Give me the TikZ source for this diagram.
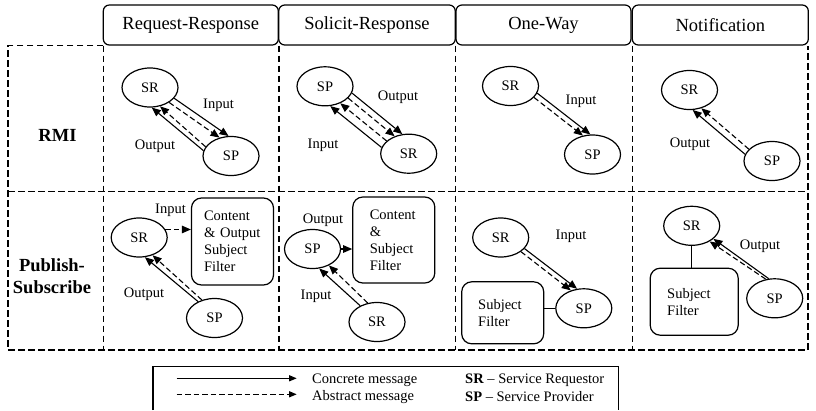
\documentclass[tikz,border=0pt]{standalone}
\usepackage{fontspec}
\setmainfont{Liberation Serif}
\usetikzlibrary{arrows.meta,positioning,shapes.geometric}

\begin{document}
\begin{tikzpicture}[
    x=1pt, y=-1pt,
    grid/.style={line width=1.2pt, dash pattern=on 6.5pt off 3.5pt},
    head/.style={draw, fill=white, rounded corners=6pt, line width=1.2pt, minimum height=40pt, inner sep=0pt, font=\fontsize{18.5}{22}\selectfont},
    rowlabel/.style={align=center, inner sep=0pt, font=\fontsize{18.5}{22}\selectfont\bfseries},
    party/.style={draw, ellipse, line width=1.2pt, minimum width=56pt, minimum height=39pt, inner sep=0pt, font=\fontsize{14.5}{17}\selectfont},
    filter/.style={draw, rounded corners=10pt, line width=1.2pt, align=left, inner sep=0pt, minimum width=82pt, font=\fontsize{14.5}{17}\selectfont},
    lbl/.style={inner sep=0pt, font=\fontsize{14.5}{17}\selectfont},
    msg/.style={-{Triangle[length=9pt,width=7.5pt]}, line width=1.1pt},
    amsg/.style={msg, dash pattern=on 5.5pt off 3pt}
  ]
    \useasboundingbox (0,0) rectangle (816,410);

    % table frame
    \draw[grid] (103.3,45.5) -- (8,45.5) -- (8,350) -- (808,350) -- (808,45.5);
    \draw[grid] (8,191.7) -- (808,191.7);
    \draw[grid] (103.3,45.5) -- (103.3,350);
    \draw[grid] (279,45.5) -- (279,350);
    \draw[grid] (455.7,45.5) -- (455.7,350);
    \draw[grid] (632.3,45.5) -- (632.3,350);

    \node[head, minimum width=175pt] (h-rr) at (190.8,25) {Request-Response};
    \node[head, minimum width=176.5pt] (h-sr) at (367,25) {Solicit-Response};
    \node[head, minimum width=175pt] (h-ow) at (543.5,25) {One-Way};
    \node[head, minimum width=176pt] (h-no) at (720.3,25) {Notification};

    \node[rowlabel] (rmi) at (57.5,135) {RMI};
    \node[rowlabel] (pubsub) at (52,276) {Publish-\\Subscribe};

    % RMI row
    \node[party] (rr-sr) at (150,87.5) {SR};
    \node[party] (rr-sp) at (231,156) {SP};
    \draw[msg] (rr-sr.-24) -- (rr-sp.97);
    \draw[amsg] (rr-sr.-38) -- (rr-sp.122);
    \draw[amsg] (rr-sp.160) -- (rr-sr.-62);
    \draw[msg] (rr-sp.169) -- (rr-sr.-85);
    \node[lbl] (rr-in) at (218.5,105) {Input};
    \node[lbl] (rr-out) at (155,146) {Output};

    \node[party] (sr-sp) at (325,86.3) {SP};
    \node[party] (sr-sr) at (408.7,153.7) {SR};
    \draw[msg] (sr-sp.-14) -- (sr-sr.108);
    \draw[amsg] (sr-sp.-27) -- (sr-sr.129);
    \draw[amsg] (sr-sr.150) -- (sr-sp.-48);
    \draw[msg] (sr-sr.167) -- (sr-sp.-75);
    \node[lbl] (sr-out) at (398,97.3) {Output};
    \node[lbl] (sr-in) at (323,145) {Input};

    \node[party] (ow-sr) at (510.5,86) {SR};
    \node[party] (ow-sp) at (592.5,154.5) {SP};
    \draw[msg] (ow-sr.-15) -- (ow-sp.96);
    \draw[amsg] (ow-sr.-26) -- (ow-sp.117);
    \node[lbl] (ow-in) at (581,101.7) {Input};

    \node[party] (no-sr) at (689.5,90) {SR};
    \node[party] (no-sp) at (772,161) {SP};
    \draw[msg] (no-sp.166) -- (no-sr.-81);
    \draw[amsg] (no-sp.153) -- (no-sr.-57);
    \node[lbl] (no-out) at (690,144.3) {Output};

    % Publish-Subscribe row
    \node[party] (prr-sr) at (139.2,237.5) {SR};
    \node[party] (prr-sp) at (214.5,318) {SP};
    \node[filter, text width=57pt, minimum height=87pt] (prr-box) at (232.5,241.5) {Content\\\& Output\\Subject\\Filter};
    \draw[msg] (prr-sp.135) -- (prr-sr.-74);
    \draw[amsg] (prr-sp.125) -- (prr-sr.-53);
    \draw[amsg] (prr-sr.17) -- (prr-sr.17 -| prr-box.west);
    \node[lbl] (prr-in) at (170.5,210.7) {Input};
    \node[lbl] (prr-out) at (144,294) {Output};

    \node[party] (psr-sp) at (312.5,249) {SP};
    \node[party] (psr-sr) at (377,322) {SR};
    \node[filter, text width=48pt, minimum height=86pt] (psr-box) at (393.8,240) {Content\\\&\\Subject\\Filter};
    \draw[msg] (psr-sr.136) -- (psr-sp.-71);
    \draw[amsg] (psr-sr.116) -- (psr-sp.-45);
    \draw[amsg] (psr-sp.east) -- (psr-sp.east -| psr-box.west);
    \node[lbl] (psr-out) at (323,220.7) {Output};
    \node[lbl] (psr-in) at (316,296.7) {Input};

    \node[party] (pow-sr) at (500.7,237.5) {SR};
    \node[party] (pow-sp) at (583.8,308.3) {SP};
    \node[filter, text width=49pt, minimum height=62pt] (pow-box) at (502.7,312.8) {Subject\\Filter};
    \draw[msg] (pow-sr.-25) -- (pow-sp.109);
    \draw[amsg] (pow-sr.-35) -- (pow-sp.126);
    \draw[line width=1.1pt] (pow-sp.west) -- (pow-sp.west -| pow-box.east);
    \node[lbl] (pow-in) at (571,236.7) {Input};

    \node[party] (pno-sr) at (691.7,225.8) {SR};
    \node[party] (pno-sp) at (774.7,298.3) {SP};
    \node[filter, text width=54pt, minimum width=88pt, minimum height=67pt] (pno-box) at (694.2,301.7) {Subject\\Filter};
    \draw[msg] (pno-sp.107) -- (pno-sr.-31);
    \draw[amsg] (pno-sp.115) -- (pno-sr.-41);
    \draw[line width=1.1pt] (pno-sr.south) -- (pno-sr.south |- pno-box.north);
    \node[lbl] (pno-out) at (760,246.7) {Output};

    % legend
    \draw[line width=1.2pt] (153,410) -- (153,366.7) -- (618.3,366.7) -- (618.3,410);
    \coordinate (key1a) at (176.7,378.3);
    \coordinate (key1b) at (296.7,378.3);
    \coordinate (key2a) at (176.7,394.3);
    \coordinate (key2b) at (296.7,394.3);
    \draw[-{Triangle[length=7.5pt,width=6pt]}, line width=1.1pt] (key1a) -- (key1b);
    \draw[-{Triangle[length=7.5pt,width=6pt]}, line width=1.1pt, dash pattern=on 5.5pt off 3pt] (key2a) -- (key2b);
    \node[lbl, anchor=west] (key-conc) at (312,380) {Concrete message};
    \node[lbl, anchor=west] (key-abs) at (312,397) {Abstract message};
    \node[lbl, anchor=west] (key-sr) at (465,380) {\textbf{SR} \textendash{} Service Requestor};
    \node[lbl, anchor=west] (key-sp) at (465,397) {\textbf{SP} \textendash{} Service Provider};
  \end{tikzpicture}
\end{document}
